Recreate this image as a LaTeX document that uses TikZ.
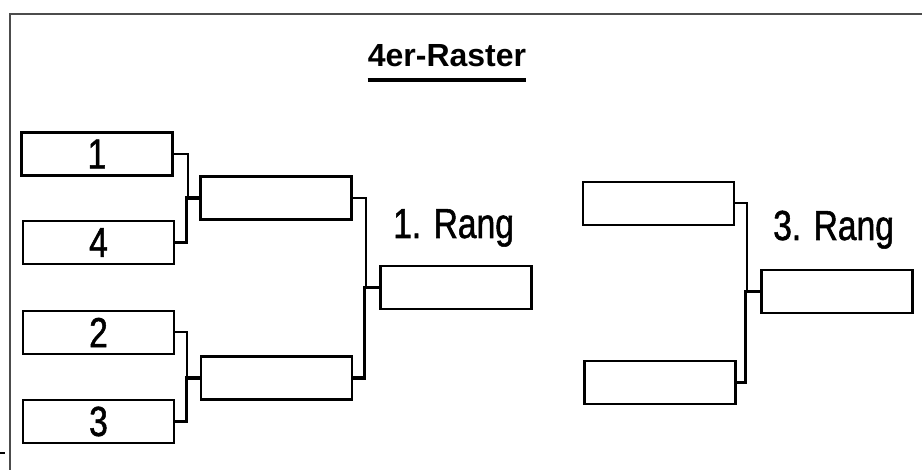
\documentclass[tikz,border=0pt]{standalone}
\usepackage{fontspec}
\setmainfont{Liberation Sans}
\newfontfamily\narrowfont[FakeStretch=0.8,FakeBold=1.2]{Liberation Sans}
\begin{document}
\begin{tikzpicture}[x=1pt,y=-1pt,
  slot/.style={draw,line width=2.6pt,minimum width=151pt,minimum height=43pt,inner sep=0pt,
    font=\narrowfont\fontsize{42}{42}\selectfont},
  link/.style={line width=2pt},
  heavy/.style={line width=3.2pt},
  label/.style={anchor=base west,inner sep=0pt,font=\narrowfont\fontsize{42}{42}\selectfont}]
\useasboundingbox (0,0) rectangle (922,470);
% frame
\draw[line width=2.2pt,black!70] (10,470) -- (10,14) -- (922,14);
\draw[line width=2pt] (0,453) -- (5,453);
% title
\node[anchor=base,inner sep=0pt,font=\bfseries\fontsize{32}{32}\selectfont] (title) at (447,67) {4er-Raster};
\draw[line width=3.2pt] ([yshift=-13pt]title.base west) -- ([yshift=-13pt]title.base east);
% first round
\node[slot] (b1) at (97,154) {1};
\node[slot] (b4) at (98.5,242.5) {4};
\node[slot] (b2) at (98.5,332.5) {2};
\node[slot] (b3) at (98.5,421.5) {3};
% semi finals
\node[slot] (sA) at (276,198) {};
\node[slot] (sB) at (276.5,378) {};
% finals
\node[slot] (f1) at (456,287.5) {};
\node[label] at (393,238) {1. Rang};
\node[slot] (t1) at (658.5,203.5) {};
\node[slot] (t2) at (660,382.5) {};
\node[slot] (f3) at (837,291.5) {};
\node[label] at (773,240) {3. Rang};
% brackets
\draw[link] (b1.east) -- ++(14,0) |- (sA.west);
\draw[heavy] (sA.west) -- ++(-13,0) |- (b4.east);
\draw[link] (b2.east) -- ++(12,0) |- (sB.west);
\draw[heavy] (sB.west) -- ++(-13,0) |- (b3.east);
\draw[link] (sA.east) -- ++(13,0) |- (f1.west);
\draw[heavy] (f1.west) -- ++(-15,0) |- (sB.east);
\draw[link] (t1.east) -- ++(12,0) |- (f3.west);
\draw[heavy] (f3.west) -- ++(-15,0) |- (t2.east);
\end{tikzpicture}
\end{document}
